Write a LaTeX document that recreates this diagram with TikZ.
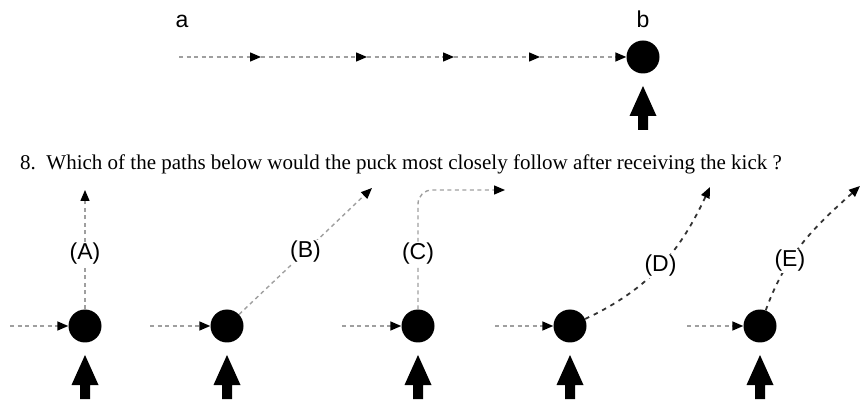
\documentclass[tikz,border=0pt]{standalone}
\usepackage{fontspec}
\setmainfont{Liberation Serif}
\setsansfont{Liberation Sans}
\usepackage{tikz}
\usetikzlibrary{arrows.meta, positioning}
\tikzstyle{puck} =
[circle, fill=black, minimum size = 33pt, inner sep = 0pt]
\tikzstyle{track} =
[draw, gray!75, line width = 1.4pt, dash pattern = on 4pt off 3.5pt,
-{Triangle[length=11pt, width=9pt, black]}]
\tikzstyle{heavytrack} =
[draw, black!80, line width = 1.8pt, dash pattern = on 4.5pt off 5pt,
-{Triangle[length=11pt, width=9pt, black]}]
\tikzstyle{choice} =
[fill=white, text=black, inner sep = 1pt,
font=\sffamily\fontsize{23}{26}\selectfont]
\tikzstyle{letter} =
[anchor=base, inner sep = 0pt, font=\sffamily\fontsize{23}{26}\selectfont]
\newcommand{\kickarrow}[1]{%
  \fill ([yshift=-29pt]#1.center) -- ++(-13.5,-30) -- ++(8.5,0) -- ++(0,-14)
   -- ++(10,0) -- ++(0,14) -- ++(8.5,0) -- cycle;}

\begin{document}
\begin{tikzpicture}[x=1pt, y=1pt, node distance = 142pt]
  \useasboundingbox (0,0) rectangle (864,404);
  % puck sliding from a to b
  \node [puck] (pb) at (643,347) {};
  \coordinate (start) at (179,347);
  \coordinate (m1) at (261,347);
  \coordinate (m2) at (367,347);
  \coordinate (m3) at (454,347);
  \coordinate (m4) at (540,347);
  \node [letter] (la) at (182,376) {a};
  \node [letter] (lb) at (643,376) {b};
  \path [track] (start) -- (m1);
  \path [track] (m1) -- (m2);
  \path [track] (m2) -- (m3);
  \path [track] (m3) -- (m4);
  \path [track] (m4) -- (pb);
  \kickarrow{pb}
  %
  % question
  \node [anchor=base west, inner sep=0pt,
   font=\fontsize{21}{25}\selectfont] (question) at (20,234)
   {8.\hspace{0.5em}Which of the paths below would the puck most closely
   follow after receiving the kick ?};
  %
  % answer pucks
  \node [puck] (pA) at (85,78) {};
  \node [puck, right of=pA] (pB) {};
  \node [puck, right of=pB, node distance=191pt] (pC) {};
  \node [puck, right of=pC, node distance=152pt] (pD) {};
  \node [puck, right of=pD, node distance=190pt] (pE) {};
  \coordinate [left of=pA, node distance=75pt] (inA);
  \coordinate [left of=pB, node distance=77pt] (inB);
  \coordinate [left of=pC, node distance=76pt] (inC);
  \coordinate [left of=pD, node distance=75pt] (inD);
  \coordinate [left of=pE, node distance=73pt] (inE);
  \coordinate (eA) at (85,214);
  \coordinate (eB) at (372,216);
  \coordinate (eC) at (505,214);
  \coordinate (eD) at (710,217);
  \coordinate (eE) at (860,218);
  % incoming edges
  \path [track] (inA) -- (pA);
  \path [track] (inB) -- (pB);
  \path [track] (inC) -- (pC);
  \path [track] (inD) -- (pD);
  \path [track] (inE) -- (pE);
  % outgoing edges
  \path [track] (pA) -- node [choice, pos=0.47] (lA) {(A)} (eA);
  \path [track] (pB) -- node [choice, pos=0.5] (lB) {(B)} (eB);
  \path [track, rounded corners=14pt] (pC) |- node [choice, pos=0.235] (lC)
   {(C)} (eC);
  \path [heavytrack] (pD) to [out=25, in=245] node [choice, pos=0.5] (lD)
   {(D)} (eD);
  \path [heavytrack] (pE) to [out=70, in=222] node [choice, pos=0.34] (lE)
   {(E)} (eE);
  % kicks
  \kickarrow{pA}
  \kickarrow{pB}
  \kickarrow{pC}
  \kickarrow{pD}
  \kickarrow{pE}
\end{tikzpicture}
\end{document}
